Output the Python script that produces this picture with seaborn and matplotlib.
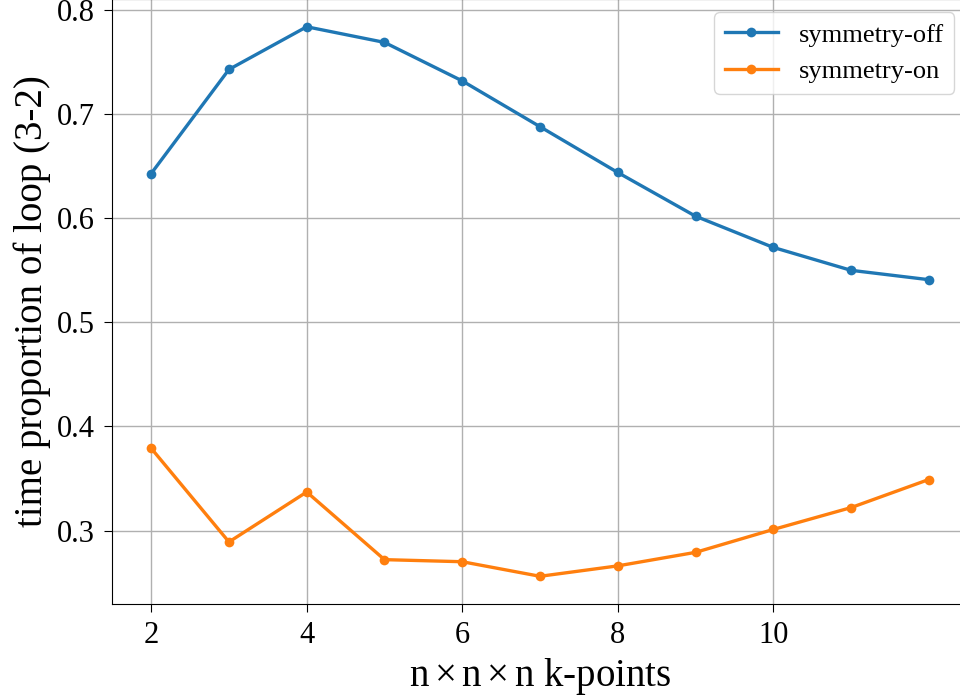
import numpy as np
import pandas as pd
import matplotlib
matplotlib.use('Agg')
import matplotlib.pyplot as plt
import seaborn as sns

# n x n x n k-point grids
kpoints = [2, 3, 4, 5, 6, 7, 8, 9, 10, 11, 12]
sym_off = [0.643, 0.743, 0.784, 0.769, 0.732, 0.688, 0.644, 0.602, 0.572, 0.550, 0.541]
sym_on = [0.379, 0.289, 0.337, 0.272, 0.270, 0.256, 0.266, 0.279, 0.301, 0.322, 0.349]
series = ['symmetry-off', 'symmetry-on']

data = pd.DataFrame({
    'n': kpoints * 2,
    'ratio': sym_off + sym_on,
    'mode': [series[0]] * len(kpoints) + [series[1]] * len(kpoints),
})

plt.rcParams['font.family'] = ['Liberation Serif', 'DejaVu Serif']
plt.rcParams['mathtext.fontset'] = 'stix'

fig = plt.figure(figsize=(9.6, 6.98), dpi=100)
ax = fig.add_axes([0.117, 0.135, 0.891, 0.866])

sns.lineplot(data=data, x='n', y='ratio', hue='mode', hue_order=series,
             palette=['#1f77b4', '#ff7f0e'], marker='o', markersize=7,
             markeredgewidth=0, linewidth=2.4, ax=ax)

ax.grid(True, color='#b0b0b0', linewidth=1)
ax.set_xticks([2, 4, 6, 8, 10])
ax.tick_params(labelsize=22, length=5.5, pad=7)
ax.set_xlabel('$\\mathregular{n\\times n\\times n}$ k-points', fontsize=28)
ax.set_ylabel('time proportion of loop (3-2)', fontsize=28)
ax.legend(loc='upper right', fontsize=19, title=None)

fig.savefig('out.png', dpi=100)
